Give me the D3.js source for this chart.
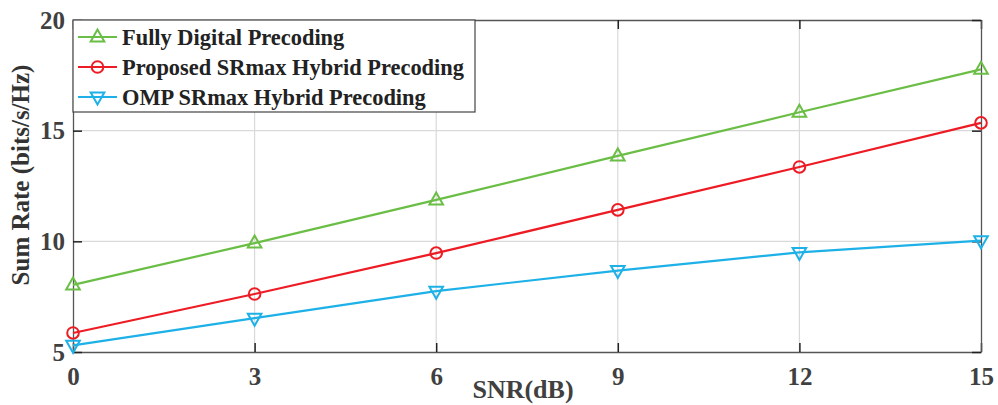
<!DOCTYPE html>
<html lang="en">
<head>
<meta charset="UTF-8">
<title>Sum Rate vs SNR</title>
<script src="https://d3js.org/d3.v7.min.js"></script>
<style>
  body { margin: 0; background: #fff; }
  svg text { font-family: 'Liberation Serif', 'Times New Roman', serif; font-weight: bold; }
</style>
</head>
<body>
<div id="chart"></div>
<script>
// data
const snr = [0, 3, 6, 9, 12, 15];
const fullyDigital = [8.03, 9.92, 11.87, 13.86, 15.83, 17.77];
const proposedSR = [5.86, 7.62, 9.47, 11.42, 13.36, 15.35];
const ompSR = [5.3, 6.53, 7.75, 8.68, 9.5, 10.03];
const xTicks = [0, 3, 6, 9, 12, 15];
const yTicks = [5, 10, 15, 20];

const seriesList = [
  { name: "Fully Digital Precoding", values: fullyDigital, color: "#6BBE45", marker: "up" },
  { name: "Proposed SRmax Hybrid Precoding", values: proposedSR, color: "#ED1C24", marker: "circle" },
  { name: "OMP SRmax Hybrid Precoding", values: ompSR, color: "#1EB1E7", marker: "down" }
];

const width = 998, height = 405;
const margin = { top: 20, right: 17, bottom: 53, left: 73 };

const svg = d3.select("#chart").append("svg")
  .attr("width", width).attr("height", height);

const x = d3.scaleLinear().domain([0, 15]).range([margin.left, width - margin.right]);
const y = d3.scaleLinear().domain([5, 20]).range([height - margin.bottom, margin.top]);

// grid
svg.append("g").selectAll("line.gx").data(xTicks.slice(1, -1)).enter().append("line")
  .attr("x1", d => x(d)).attr("x2", d => x(d))
  .attr("y1", y(5)).attr("y2", y(20))
  .attr("stroke", "#d9d9d9").attr("stroke-width", 1.2);
svg.append("g").selectAll("line.gy").data(yTicks.slice(1, -1)).enter().append("line")
  .attr("x1", x(0)).attr("x2", x(15))
  .attr("y1", d => y(d)).attr("y2", d => y(d))
  .attr("stroke", "#d9d9d9").attr("stroke-width", 1.2);

// axes
const xAxis = d3.axisBottom(x).tickValues(xTicks).tickSizeInner(-9).tickSizeOuter(0).tickPadding(15);
const yAxis = d3.axisLeft(y).tickValues(yTicks).tickSizeInner(-9).tickSizeOuter(0).tickPadding(8);

const gx = svg.append("g").attr("transform", `translate(0,${y(5)})`).call(xAxis);
const gy = svg.append("g").attr("transform", `translate(${x(0)},0)`).call(yAxis);
const gxTop = svg.append("g").attr("transform", `translate(0,${y(20)})`)
  .call(d3.axisTop(x).tickValues(xTicks).tickSizeInner(-9).tickSizeOuter(0).tickFormat(""));
const gyRight = svg.append("g").attr("transform", `translate(${x(15)},0)`)
  .call(d3.axisRight(y).tickValues(yTicks).tickSizeInner(-9).tickSizeOuter(0).tickFormat(""));

[gx, gy, gxTop, gyRight].forEach(g => {
  g.select(".domain").attr("stroke", "#555").attr("stroke-width", 1.3);
  g.selectAll(".tick line").attr("stroke", "#222").attr("stroke-width", 1.5);
  g.selectAll(".tick text").attr("fill", "#404040").style("font-size", "25px")
    .style("font-family", "'Liberation Serif', serif").style("font-weight", "bold");
});

// axis titles
svg.append("text")
  .attr("x", (x(0) + x(15)) / 2 - 4).attr("y", 398)
  .attr("text-anchor", "middle").attr("fill", "#404040")
  .style("font-size", "26px").text("SNR(dB)");
svg.append("text")
  .attr("transform", `translate(29,${(y(5) + y(20)) / 2 - 11}) rotate(-90)`)
  .attr("text-anchor", "middle").attr("fill", "#333")
  .style("font-size", "25px").text("Sum Rate (bits/s/Hz)");

function drawMarker(g, type, cx, cy, color) {
  if (type === "circle") {
    g.append("circle").attr("cx", cx).attr("cy", cy).attr("r", 5.8)
      .attr("fill", "none").attr("stroke", color).attr("stroke-width", 2);
  } else {
    const s = type === "up" ? -1 : 1;
    const pts = [[cx, cy + s * 7.5], [cx - 6.8, cy - s * 4.5], [cx + 6.8, cy - s * 4.5]];
    g.append("polygon").attr("points", pts.map(p => p.join(",")).join(" "))
      .attr("fill", "none").attr("stroke", color).attr("stroke-width", 2);
  }
}

// lines + markers
const line = d3.line().x((d, i) => x(snr[i])).y(d => y(d));
seriesList.forEach(s => {
  const g = svg.append("g");
  g.append("path").datum(s.values).attr("d", line)
    .attr("fill", "none").attr("stroke", s.color).attr("stroke-width", 2.2);
  s.values.forEach((v, i) => drawMarker(g, s.marker, x(snr[i]), y(v), s.color));
});

// legend
const legend = svg.append("g");
legend.append("rect").attr("x", x(0)).attr("y", y(20)).attr("width", 402).attr("height", 92)
  .attr("fill", "#fff").attr("stroke", "#444").attr("stroke-width", 1.2);
seriesList.forEach((s, i) => {
  const ly = 37 + i * 30;
  legend.append("line").attr("x1", 78).attr("x2", 117).attr("y1", ly).attr("y2", ly)
    .attr("stroke", s.color).attr("stroke-width", 2.2);
  drawMarker(legend, s.marker, 97.5, ly, s.color);
  legend.append("text").attr("x", 122).attr("y", ly + 7.5)
    .attr("fill", "#222").style("font-size", "22.4px").text(s.name);
});
</script>
</body>
</html>
